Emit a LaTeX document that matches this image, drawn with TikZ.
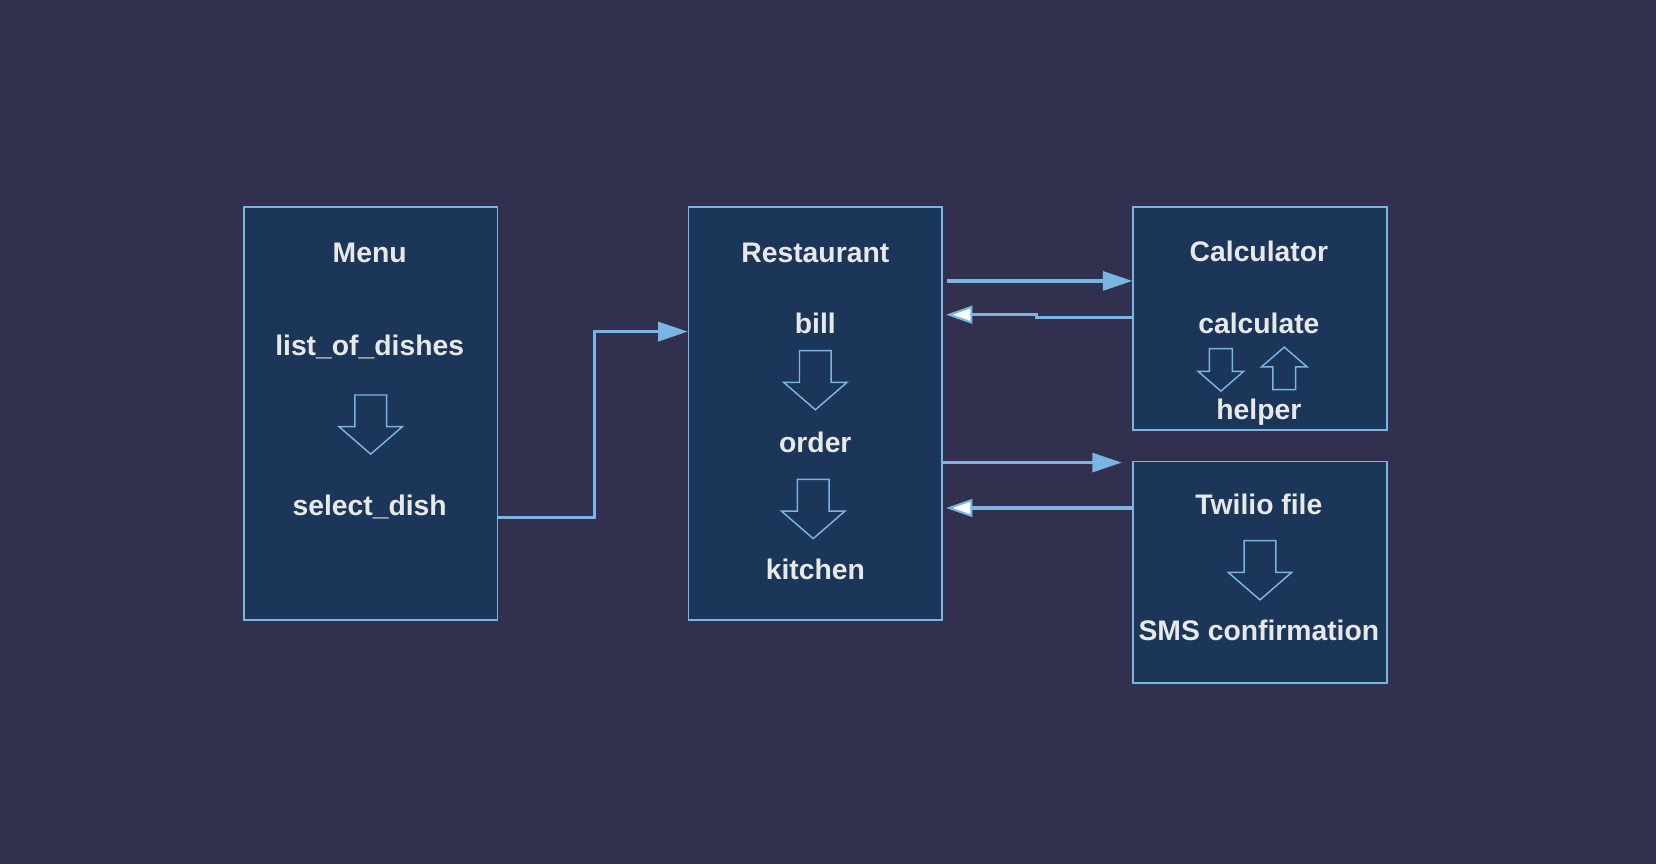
\documentclass[tikz,border=0pt]{standalone}
\usepackage{fontspec}
\setmainfont{Liberation Sans}
\usepackage{tikz}
\usetikzlibrary{arrows.meta,calc}
\definecolor{bgcol}{HTML}{31314F}
\definecolor{boxcol}{HTML}{1B3659}
\definecolor{linecol}{HTML}{7AB4E2}
\definecolor{txtcol}{HTML}{E8E8E8}
\tikzset{
  box/.style = {draw=linecol, line width=0.8pt, fill=boxcol, minimum width=120pt, inner sep=0pt},
  lbl/.style = {text=txtcol, font=\fontsize{13.4}{16}\selectfont\bfseries, inner sep=0pt},
  link/.style = {draw=linecol, line width=1.5pt},
  full/.style = {-{Triangle[length=14pt,width=9pt]}},
  hollow/.style = {-{Triangle[length=12.5pt,width=8.5pt,fill=white,line width=1pt]}},
  downarr/.pic = {\draw[draw=linecol, line width=0.7pt, fill=boxcol]
      (-15,0) -- (15,0) -- (15,30) -- (30,30) -- (0,56) -- (-30,30) -- (-15,30) -- cycle;}
}

\begin{document}
\begin{tikzpicture}[x=0.5pt, y=-0.5pt]
%%Background
\fill[bgcol] (0,0) rectangle (1568,818);
\useasboundingbox (0,0) rectangle (1568,818);
%%Boxes
\node[box, minimum height=195.5pt] (menu)   at (351,391.5)  {};
\node[box, minimum height=195.5pt] (rest)   at (772,391.5)  {};
\node[box, minimum height=105.5pt] (calc)   at (1193,301.5) {};
\node[box, minimum height=105pt]   (twilio) at (1193,542)   {};
%%Menu
\node[lbl] (menutitle) at (350,239) {Menu};
\node[lbl] (dishes)    at (350,329) {list\_of\_dishes};
\node[lbl] (seldish)   at (350,480) {select\_dish};
\pic at (351,374) {downarr};
%%Restaurant
\node[lbl] (resttitle) at (772,239) {Restaurant};
\node[lbl] (bill)      at (772,306) {bill};
\node[lbl] (order)     at (772,419) {order};
\node[lbl] (kitchen)   at (772,539) {kitchen};
\pic at (772,332) {downarr};
\pic at (770,454) {downarr};
%%Calculator
\node[lbl] (calctitle) at (1192,238) {Calculator};
\node[lbl] (calculate) at (1192,306) {calculate};
\node[lbl] (helper)    at (1192,390) {helper};
\pic[scale=0.72] at (1156,330) {downarr};
\pic[scale=0.72, rotate=180] at (1216,369) {downarr};
%%Twilio
\node[lbl] (twtitle) at (1192,478) {Twilio file};
\node[lbl] (sms)     at (1192,597) {SMS confirmation};
\pic at (1193,512) {downarr};
%%Connectors
\draw[link, full] ($(menu.east)+(0,98.5)$) -- ++(91,0) |- ($(rest.west)+(0,-77.5)$);
\draw[link, full] ($(rest.east)+(4,-125.5)$) -- ($(calc.west)+(0,-35.5)$);
\draw[link, hollow] ($(calc.west)+(0,-0.5)$) -- ++(-91,0) -- ++(0,-3) -- ($(rest.east)+(3,-93.5)$);
\draw[link, full] ($(rest.east)+(0,46.5)$) -- ($(twilio.west)+(-10,-104)$);
\draw[link, hollow] ($(twilio.west)+(0,-61)$) -- ($(rest.east)+(3,89.5)$);
\end{tikzpicture}
\end{document}
